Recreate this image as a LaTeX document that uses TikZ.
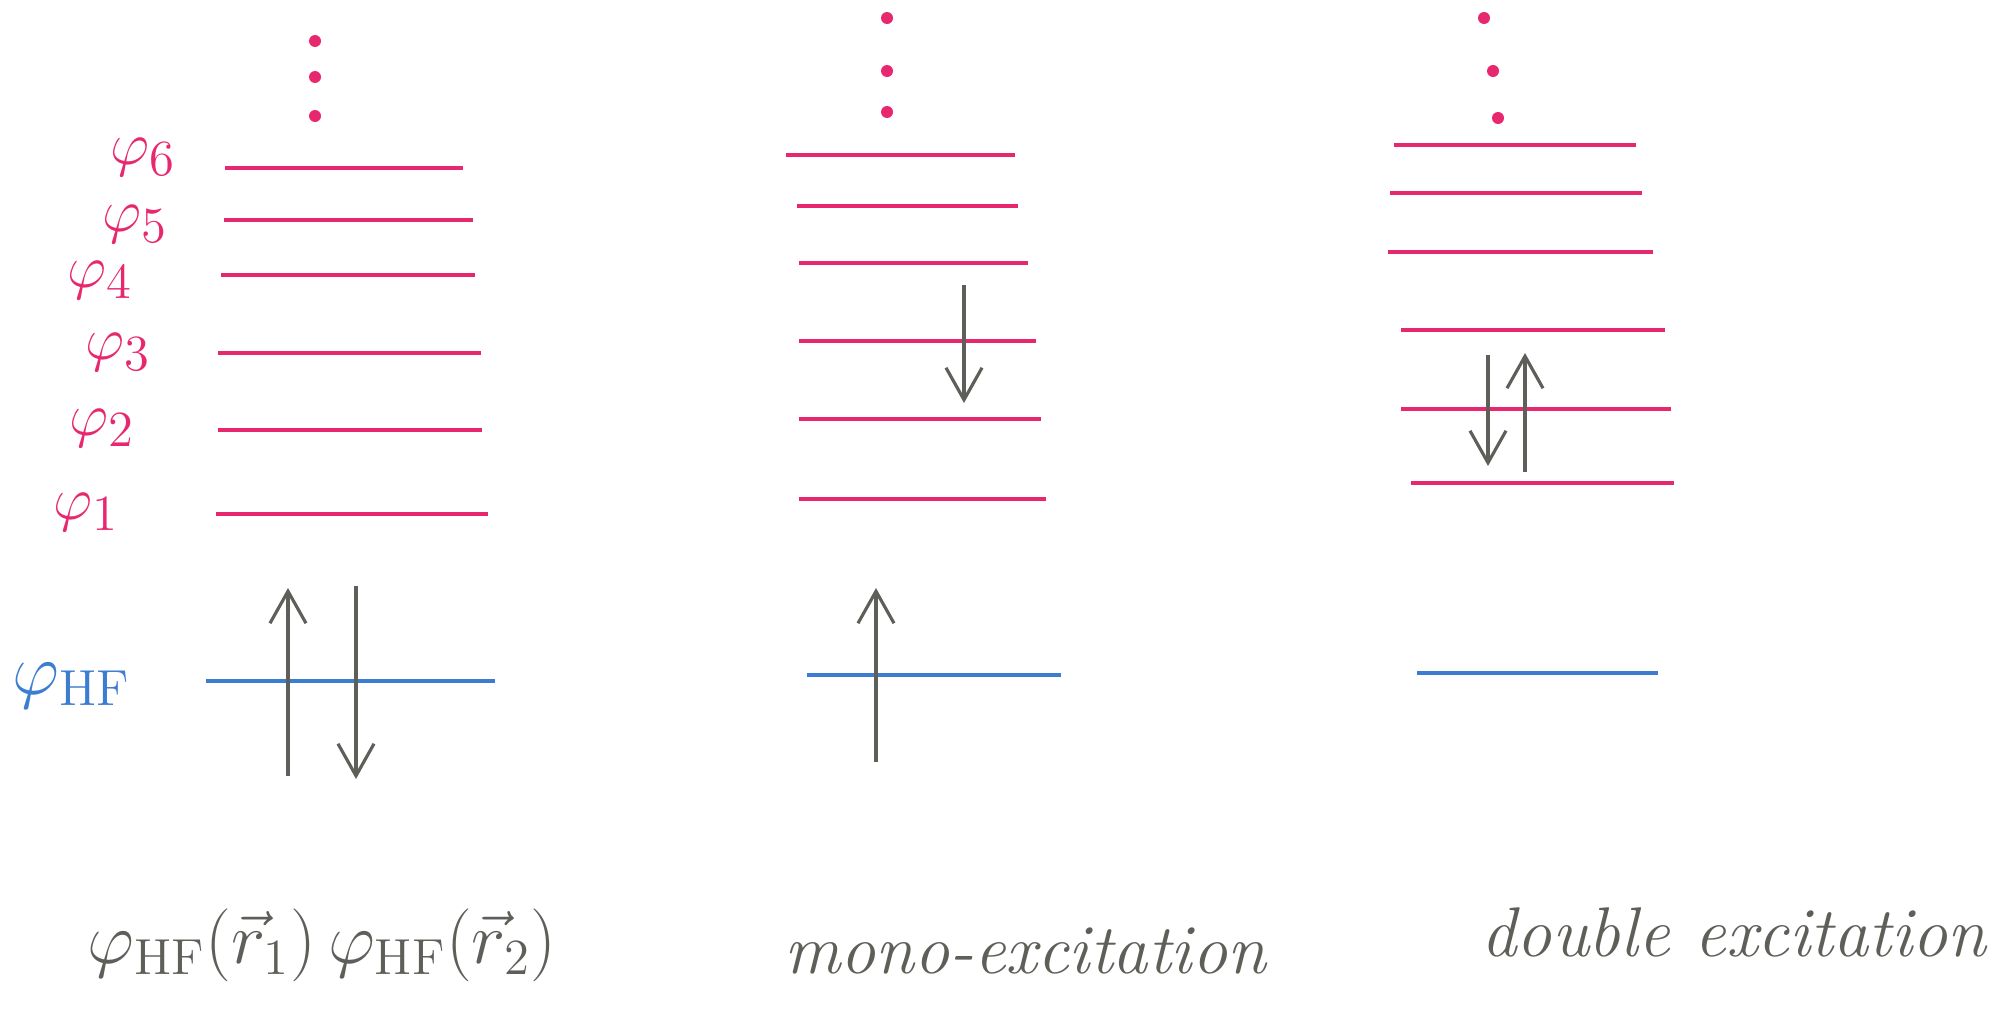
\documentclass[tikz,border=0pt]{standalone}
\usepackage{amsmath}
\usetikzlibrary{arrows.meta}

\definecolor{levelpink}{RGB}{232,40,110}
\definecolor{hfblue}{RGB}{60,125,210}
\definecolor{spingray}{RGB}{95,95,90}

\tikzset{
  level/.style={levelpink, line width=1.2pt},
  hflevel/.style={hfblue, line width=1.2pt},
  spin/.style={spingray, line width=0.9pt, -{Straight Barb[length=3.2mm,width=3.6mm]}},
  lbl/.style={levelpink, inner sep=0pt, font=\fontsize{19}{23}\selectfont},
  caption/.style={spingray, font=\fontsize{20}{24}\selectfont\itshape}
}

\begin{document}
\begin{tikzpicture}[x=0.01cm, y=-0.01cm]

    % Frame
    \useasboundingbox (0,0) rectangle (2015,1015);

    % ---- Ground state ----
    % More levels above
    \fill[levelpink] (315,41) circle (6);
    \fill[levelpink] (315,77) circle (6);
    \fill[levelpink] (315,116) circle (6);

    % Virtual orbitals
    \draw[level] (225,168) -- (463,168);
    \draw[level] (224,220) -- (473,220);
    \draw[level] (221,275) -- (475,275);
    \draw[level] (218,353) -- (481,353);
    \draw[level] (218,430) -- (482,430);
    \draw[level] (216,514) -- (488,514);

    % Occupied orbital
    \draw[hflevel] (206,681) -- (495,681);

    % Orbital labels
    \node[lbl] (p6) at (143,157) {$\varphi_6$};
    \node[lbl] (p5) at (135,224) {$\varphi_5$};
    \node[lbl] (p4) at (100,280) {$\varphi_4$};
    \node[lbl] (p3) at (118,352) {$\varphi_3$};
    \node[lbl] (p2) at (102,428) {$\varphi_2$};
    \node[lbl] (p1) at (86,512) {$\varphi_1$};
    \node[lbl, hfblue, anchor=west, font=\fontsize{22}{26}\selectfont] (phf) at (12,686) {$\varphi_{\mathrm{HF}}$};

    % Two electrons
    \coordinate (a1) at (288,776);
    \coordinate (a2) at (288,588);
    \coordinate (b1) at (356,586);
    \coordinate (b2) at (356,779);
    \draw[spin] (a1) -- (a2);
    \draw[spin] (b1) -- (b2);

    \node[caption, font=\fontsize{21}{25}\selectfont] (capHF) at (322,945) {$\varphi_{\mathrm{HF}}(\vec{r}_1)\,\varphi_{\mathrm{HF}}(\vec{r}_2)$};

    % ---- Mono-excitation ----
    \fill[levelpink] (887,18) circle (6);
    \fill[levelpink] (887,71) circle (6);
    \fill[levelpink] (887,112) circle (6);

    \draw[level] (786,155) -- (1015,155);
    \draw[level] (797,206) -- (1018,206);
    \draw[level] (799,263) -- (1028,263);
    \draw[level] (799,341) -- (1036,341);
    \draw[level] (799,419) -- (1041,419);
    \draw[level] (799,499) -- (1046,499);

    \draw[hflevel] (807,675) -- (1061,675);

    \coordinate (c1) at (964,285);
    \coordinate (c2) at (964,403);
    \coordinate (d1) at (876,762);
    \coordinate (d2) at (876,588);
    \draw[spin] (c1) -- (c2);
    \draw[spin] (d1) -- (d2);

    \node[caption] (capMono) at (1025,951) {mono-excitation};

    % ---- Double excitation ----
    \fill[levelpink] (1484,18) circle (6);
    \fill[levelpink] (1493,71) circle (6);
    \fill[levelpink] (1498,118) circle (6);

    \draw[level] (1394,145) -- (1636,145);
    \draw[level] (1390,193) -- (1642,193);
    \draw[level] (1388,252) -- (1653,252);
    \draw[level] (1401,330) -- (1665,330);
    \draw[level] (1401,409) -- (1671,409);
    \draw[level] (1411,483) -- (1674,483);

    \draw[hflevel] (1417,673) -- (1658,673);

    \coordinate (e1) at (1488,355);
    \coordinate (e2) at (1488,466);
    \coordinate (f1) at (1525,472);
    \coordinate (f2) at (1525,353);
    \draw[spin] (e1) -- (e2);
    \draw[spin] (f1) -- (f2);

    \node[caption] (capDouble) at (1734,932) {double excitation};

\end{tikzpicture}
\end{document}
